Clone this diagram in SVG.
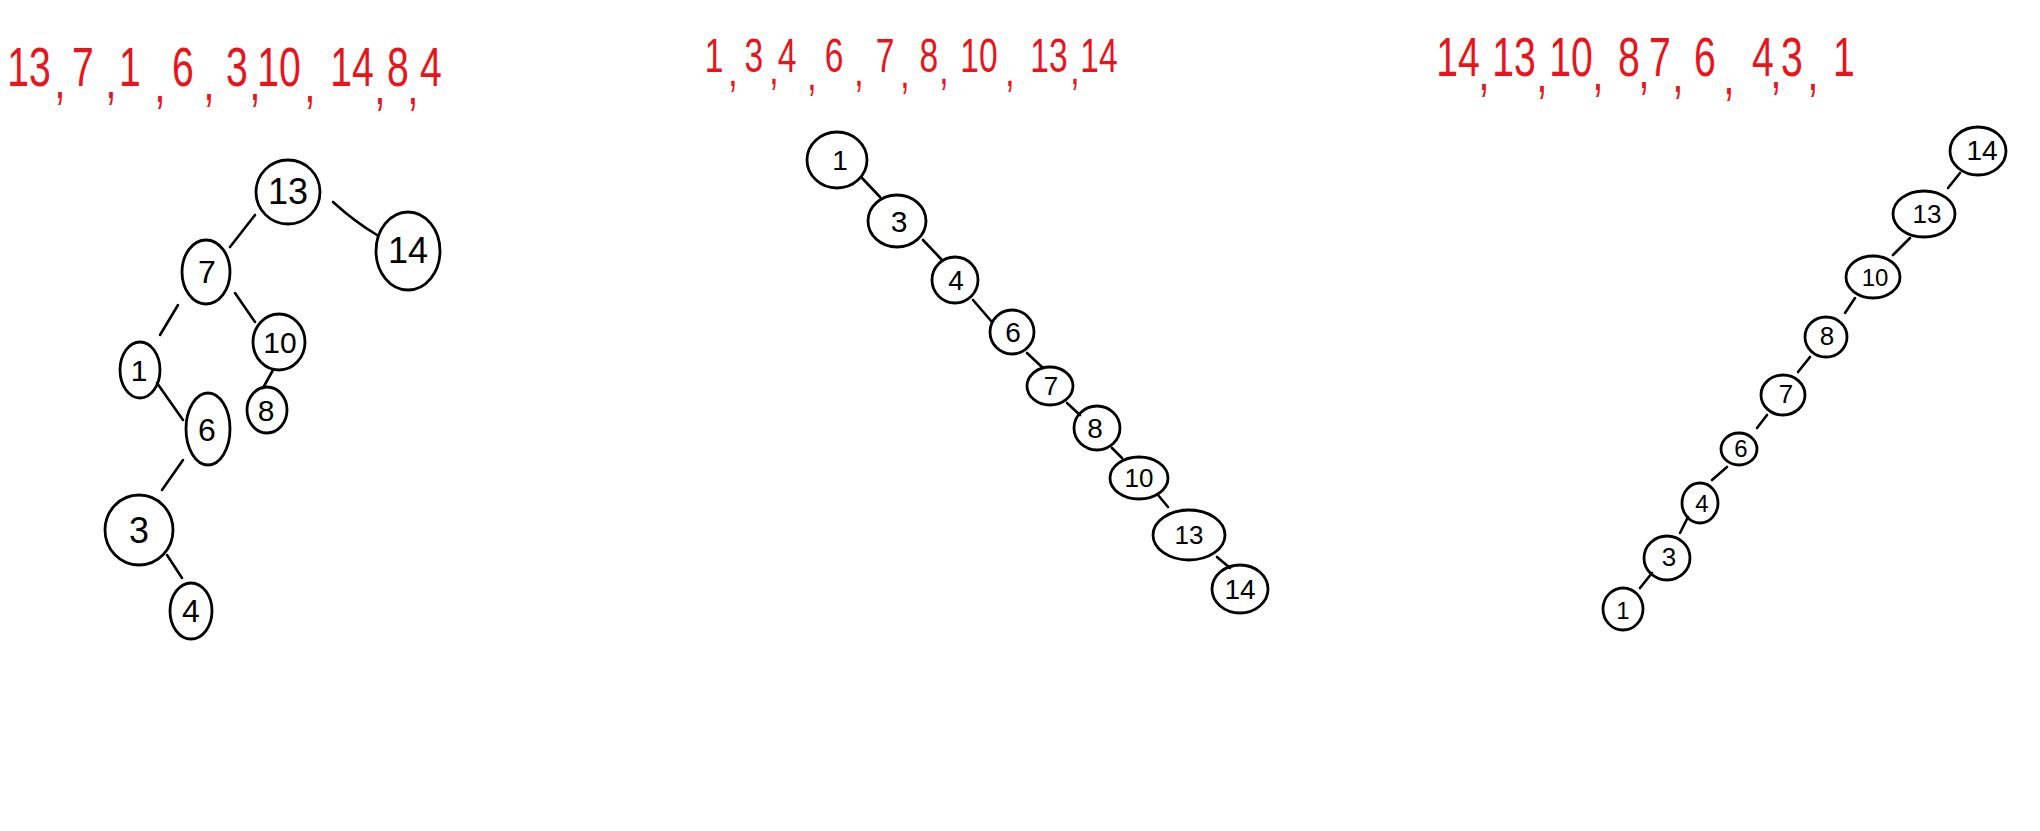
<svg xmlns="http://www.w3.org/2000/svg" width="2040" height="831" viewBox="0 0 2040 831">
<style>
.hdr{font-family:"Liberation Sans","DejaVu Sans",sans-serif;fill:#e8141c;text-anchor:middle}
.n ellipse{fill:none;stroke:#000;stroke-width:2.8}
.n text{font-family:"Liberation Sans","DejaVu Sans",sans-serif;fill:#000;text-anchor:middle;dominant-baseline:central}
.e line,.e path{stroke:#000;stroke-width:2.6;stroke-linecap:round;fill:none}
</style>
<rect width="2040" height="831" fill="#fff"/>
<text class="hdr" font-size="56" y="86" transform="scale(0.7,1)"><tspan x="41.4">13</tspan><tspan x="85.7" dy="12">,</tspan><tspan x="118.6" dy="-12">7</tspan><tspan x="158.6" dy="12">,</tspan><tspan x="185.7" dy="-12">1</tspan><tspan x="228.6" dy="16">,</tspan><tspan x="261.4" dy="-16">6</tspan><tspan x="298.6" dy="14">,</tspan><tspan x="338.6" dy="-14">3</tspan><tspan x="364.3" dy="14">,</tspan><tspan x="398.6" dy="-14">10</tspan><tspan x="442.9" dy="16">,</tspan><tspan x="502.9" dy="-16">14</tspan><tspan x="542.9" dy="18">,</tspan><tspan x="568.6" dy="-18">8</tspan><tspan x="590" dy="18">,</tspan><tspan x="615.7" dy="-18">4</tspan></text>
<text class="hdr" font-size="48" y="72" transform="scale(0.7,1)"><tspan x="1020">1</tspan><tspan x="1047.1" dy="14">,</tspan><tspan x="1077.1" dy="-14">3</tspan><tspan x="1105.7" dy="12">,</tspan><tspan x="1124.3" dy="-12">4</tspan><tspan x="1160" dy="18">,</tspan><tspan x="1191.4" dy="-18">6</tspan><tspan x="1227.1" dy="14">,</tspan><tspan x="1264.3" dy="-14">7</tspan><tspan x="1292.9" dy="16">,</tspan><tspan x="1327.1" dy="-16">8</tspan><tspan x="1348.6" dy="12">,</tspan><tspan x="1398.6" dy="-12">10</tspan><tspan x="1442.9" dy="14">,</tspan><tspan x="1498.6" dy="-14">13</tspan><tspan x="1535.7" dy="12">,</tspan><tspan x="1570" dy="-12">14</tspan></text>
<text class="hdr" font-size="56" y="76" transform="scale(0.7,1)"><tspan x="2082.9">14</tspan><tspan x="2120" dy="14">,</tspan><tspan x="2162.9" dy="-14">13</tspan><tspan x="2202.9" dy="16">,</tspan><tspan x="2244.3" dy="-16">10</tspan><tspan x="2282.9" dy="14">,</tspan><tspan x="2327.1" dy="-14">8</tspan><tspan x="2348.6" dy="12">,</tspan><tspan x="2371.4" dy="-12">7</tspan><tspan x="2397.1" dy="16">,</tspan><tspan x="2435.7" dy="-16">6</tspan><tspan x="2470" dy="18">,</tspan><tspan x="2518.6" dy="-18">4</tspan><tspan x="2537.1" dy="12">,</tspan><tspan x="2560" dy="-12">3</tspan><tspan x="2590" dy="14">,</tspan><tspan x="2634.3" dy="-14">1</tspan></text>
<g class="e" id="connectors">
<line x1="255" y1="215" x2="230" y2="247"/>
<path d="M333 202 Q355 222 377 235"/>
<line x1="178" y1="305" x2="160" y2="335"/>
<line x1="235" y1="293" x2="255" y2="322"/>
<line x1="273" y1="370" x2="263" y2="388"/>
<line x1="157" y1="383" x2="183" y2="420"/>
<line x1="183" y1="460" x2="162" y2="490"/>
<line x1="167" y1="555" x2="182" y2="578"/>
<line x1="862" y1="178" x2="880" y2="197"/>
<line x1="923" y1="240" x2="942" y2="260"/>
<line x1="973" y1="300" x2="992" y2="322"/>
<line x1="1027" y1="353" x2="1043" y2="368"/>
<line x1="1067" y1="403" x2="1080" y2="415"/>
<line x1="1112" y1="448" x2="1122" y2="458"/>
<line x1="1158" y1="495" x2="1168" y2="507"/>
<line x1="1217" y1="557" x2="1230" y2="568"/>
<line x1="1960" y1="173" x2="1948" y2="188"/>
<line x1="1910" y1="238" x2="1893" y2="255"/>
<line x1="1855" y1="298" x2="1845" y2="313"/>
<line x1="1810" y1="357" x2="1798" y2="372"/>
<line x1="1767" y1="415" x2="1757" y2="428"/>
<line x1="1727" y1="467" x2="1712" y2="480"/>
<line x1="1688" y1="517" x2="1680" y2="533"/>
<line x1="1652" y1="573" x2="1640" y2="588"/>
</g>
<g class="n" id="t1-13"><ellipse cx="288" cy="192" rx="32" ry="32"/><text x="288" y="191" font-size="36">13</text></g>
<g class="n" id="t1-14"><ellipse cx="408" cy="251" rx="32" ry="39"/><text x="408" y="250" font-size="36">14</text></g>
<g class="n" id="t1-7"><ellipse cx="206" cy="272" rx="24" ry="32"/><text x="207" y="272" font-size="32">7</text></g>
<g class="n" id="t1-10"><ellipse cx="279" cy="342" rx="26" ry="28"/><text x="280" y="342" font-size="30">10</text></g>
<g class="n" id="t1-1"><ellipse cx="140" cy="370" rx="20" ry="28"/><text x="139" y="370" font-size="30">1</text></g>
<g class="n" id="t1-8"><ellipse cx="267" cy="410" rx="20" ry="23"/><text x="266" y="410" font-size="30">8</text></g>
<g class="n" id="t1-6"><ellipse cx="208" cy="429" rx="22" ry="36"/><text x="207" y="430" font-size="32">6</text></g>
<g class="n" id="t1-3"><ellipse cx="139" cy="530" rx="34" ry="35"/><text x="139" y="530" font-size="36">3</text></g>
<g class="n" id="t1-4"><ellipse cx="191" cy="611" rx="21" ry="28"/><text x="191" y="611" font-size="32">4</text></g>
<g class="n" id="t2-1"><ellipse cx="837" cy="160" rx="30" ry="28"/><text x="840" y="160" font-size="28">1</text></g>
<g class="n" id="t2-3"><ellipse cx="897" cy="221" rx="29" ry="26"/><text x="899" y="221" font-size="30">3</text></g>
<g class="n" id="t2-4"><ellipse cx="955" cy="280" rx="23" ry="23"/><text x="956" y="280" font-size="28">4</text></g>
<g class="n" id="t2-6"><ellipse cx="1012" cy="332" rx="22" ry="22"/><text x="1013" y="332" font-size="28">6</text></g>
<g class="n" id="t2-7"><ellipse cx="1050" cy="386" rx="23" ry="19"/><text x="1051" y="386" font-size="26">7</text></g>
<g class="n" id="t2-8"><ellipse cx="1097" cy="428" rx="23" ry="22"/><text x="1095" y="428" font-size="28">8</text></g>
<g class="n" id="t2-10"><ellipse cx="1139" cy="478" rx="29" ry="21"/><text x="1139" y="478" font-size="26">10</text></g>
<g class="n" id="t2-13"><ellipse cx="1189" cy="535" rx="36" ry="25"/><text x="1189" y="535" font-size="26">13</text></g>
<g class="n" id="t2-14"><ellipse cx="1240" cy="589" rx="28" ry="24"/><text x="1240" y="589" font-size="28">14</text></g>
<g class="n" id="t3-14"><ellipse cx="1978" cy="151" rx="28" ry="24"/><text x="1982" y="150" font-size="28">14</text></g>
<g class="n" id="t3-13"><ellipse cx="1924" cy="214" rx="31" ry="23"/><text x="1927" y="214" font-size="26">13</text></g>
<g class="n" id="t3-10"><ellipse cx="1873" cy="277" rx="27" ry="21"/><text x="1875" y="277" font-size="24">10</text></g>
<g class="n" id="t3-8"><ellipse cx="1826" cy="337" rx="21" ry="20"/><text x="1827" y="336" font-size="26">8</text></g>
<g class="n" id="t3-7"><ellipse cx="1783" cy="395" rx="22" ry="20"/><text x="1786" y="394" font-size="26">7</text></g>
<g class="n" id="t3-6"><ellipse cx="1739" cy="449" rx="18" ry="16"/><text x="1741" y="448" font-size="24">6</text></g>
<g class="n" id="t3-4"><ellipse cx="1700" cy="503" rx="18" ry="20"/><text x="1702" y="503" font-size="24">4</text></g>
<g class="n" id="t3-3"><ellipse cx="1667" cy="558" rx="23" ry="22"/><text x="1669" y="557" font-size="26">3</text></g>
<g class="n" id="t3-1"><ellipse cx="1623" cy="609" rx="20" ry="21"/><text x="1623" y="610" font-size="24">1</text></g>
</svg>
